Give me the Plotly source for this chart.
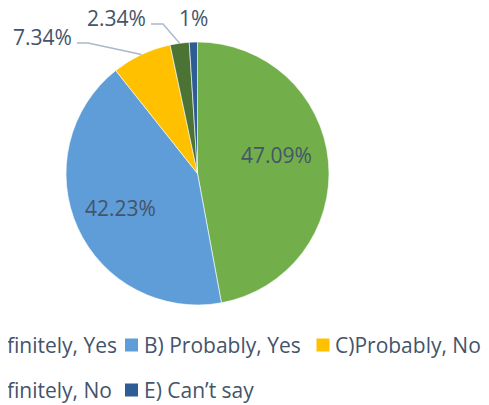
import math
import plotly.graph_objects as go

# ---- data ----
categories = ["A) Definitely, Yes", "B) Probably, Yes", "C)Probably, No",
              "D) Definitely, No", "E) Can’t say"]
values = [47.09, 42.23, 7.34, 2.34, 1]
colors = ["#72AF4A", "#5E9DD7", "#FFC000", "#4B7434", "#2E5D96"]
label_texts = [f"{v}%" for v in values]

# ---- layout constants (figure pixels) ----
W, H = 481, 397
TEXT = "#44546A"
LEADER = "#A9B8CB"
FONT = "Open Sans"
cx, cy, R = 189.5, 165.5, 131.5

# data-label placement: centre (x, y) and, for outside labels, the elbow of the leader
label_pos = [(268, 147), (112, 200), (34, 29), (108.5, 10), (185, 10)]
leader_elbow = [None, None, (69, 80, 35), (143, 155, 16), None]  # (x_text_end, x_elbow, y)

fig = go.Figure(go.Pie(
    labels=categories,
    values=values,
    sort=False,
    direction="clockwise",
    rotation=0,
    marker=dict(colors=colors, line=dict(color="rgba(255,255,255,0.75)", width=0.8)),
    textinfo="none",
    showlegend=False,
    automargin=False,
    domain=dict(x=[(cx - R) / W, (cx + R) / W],
                y=[1 - (cy + R) / H, 1 - (cy - R) / H]),
    hoverinfo="label+value",
))

def px(x):
    return x / W

def py(y):
    return 1 - y / H

# ---- data labels ----
total = sum(values)
cum = 0.0
for i, v in enumerate(values):
    mid = (cum + v / 2) / total * 2 * math.pi
    cum += v
    lx, ly = label_pos[i]
    fig.add_annotation(x=px(lx), y=py(ly), xref="paper", yref="paper",
                       text=label_texts[i], showarrow=False,
                       xanchor="center", yanchor="middle",
                       font=dict(family=FONT, size=21, color=TEXT))
    if leader_elbow[i] is not None:
        x0, xe, ye = leader_elbow[i]
        ex = cx + R * math.sin(mid)
        ey = cy - R * math.cos(mid)
        fig.add_shape(type="path", xref="paper", yref="paper",
                      path=f"M {px(x0)},{py(ye)} L {px(xe)},{py(ye)} L {px(ex)},{py(ey)}",
                      line=dict(color=LEADER, width=1.4))

# ---- legend (two rows, wider than the canvas, clipped at the left edge) ----
leg_font = dict(family=FONT, size=21, color=TEXT)
# (text anchor x, anchor side, row centre y)
leg_pos = [(111, "right", 337), (134, "left", 337), (325, "left", 337),
           (106, "right", 382), (134, "left", 382)]
est_w = [170, 0, 0, 162, 0]
sq_x = [None, 117, 308.5, None, 117]
sq = 13
for i, (lab, col) in enumerate(zip(categories, colors)):
    tx, side, ty = leg_pos[i]
    fig.add_annotation(x=px(tx), y=py(ty), xref="paper", yref="paper",
                       text=lab, showarrow=False, xanchor=side, yanchor="middle",
                       font=leg_font)
    s0 = sq_x[i] if sq_x[i] is not None else tx - est_w[i] - 20
    fig.add_shape(type="rect", xref="paper", yref="paper",
                  x0=px(s0), x1=px(s0 + sq),
                  y0=py(ty + sq / 2), y1=py(ty - sq / 2),
                  fillcolor=col, line=dict(width=0))

fig.update_layout(
    width=W, height=H,
    margin=dict(l=0, r=0, t=0, b=0, autoexpand=False),
    paper_bgcolor="white", plot_bgcolor="white",
    font=dict(family=FONT, color=TEXT),
)

fig.write_html("out.html")
